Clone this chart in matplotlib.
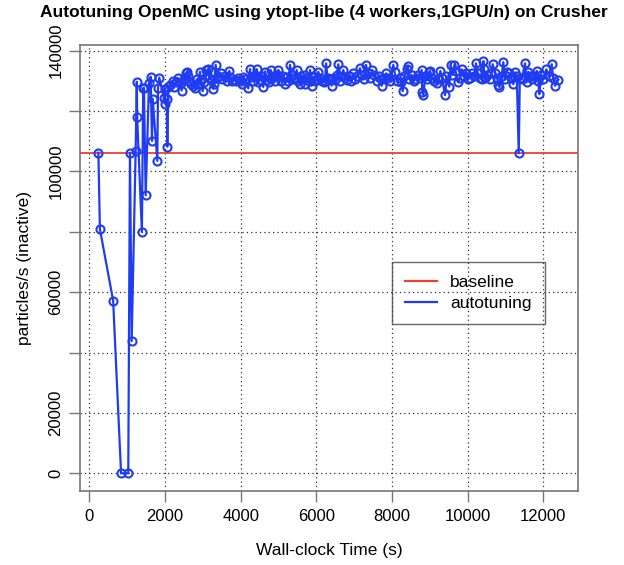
import matplotlib
matplotlib.use("Agg")
import matplotlib.pyplot as plt

plt.rcParams['font.family'] = ['Liberation Sans', 'DejaVu Sans']

BLUE, RED, FRAME = "#1f3cf2", "#ec4030", "#777777"

# wall-clock time (s) of each evaluation and its throughput
times = [240, 280, 630, 840, 1030, 1075, 1120, 1225, 1255, 1265, 1390, 1425, 1445, 1490,
         1578, 1622, 1657, 1676, 1798, 1816, 1850, 1975, 1993, 2001, 2045, 2062, 2090,
         2130, 2204, 2230, 2290, 2340, 2416, 2440, 2500, 2556, 2592, 2620, 2644, 2700,
         2750, 2790, 2840, 2880, 2926, 2943, 2996, 3040, 3084, 3120, 3146, 3172, 3233,
         3277, 3300, 3340, 3380, 3400, 3470, 3520, 3593, 3640, 3700, 3718, 3780, 3850,
         3880, 3940, 4002, 4040, 4072, 4120, 4203, 4248, 4266, 4320, 4370, 4406, 4424,
         4470, 4512, 4560, 4600, 4645, 4690, 4740, 4795, 4830, 4866, 4920, 4960, 4998,
         5020, 5080, 5130, 5170, 5218, 5260, 5305, 5349, 5390, 5440, 5482, 5520, 5560,
         5600, 5650, 5675, 5702, 5760, 5800, 5834, 5878, 5900, 5960, 6010, 6055, 6100,
         6150, 6200, 6231, 6257, 6300, 6350, 6407, 6450, 6500, 6540, 6582, 6620, 6680,
         6714, 6760, 6800, 6860, 6920, 6978, 7020, 7080, 7155, 7200, 7250, 7314, 7360,
         7420, 7480, 7530, 7600, 7650, 7700, 7729, 7800, 7850, 7900, 7960, 8036, 8070,
         8130, 8200, 8250, 8284, 8330, 8390, 8420, 8460, 8520, 8570, 8620, 8680, 8730,
         8786, 8800, 8829, 8880, 8930, 8970, 9006, 9060, 9120, 9183, 9230, 9280, 9320,
         9403, 9440, 9516, 9553, 9600, 9650, 9680, 9754, 9800, 9850, 9900, 9950, 10000,
         10060, 10120, 10180, 10222, 10270, 10320, 10380, 10415, 10430, 10460, 10520,
         10580, 10630, 10663, 10720, 10780, 10812, 10840, 10900, 10944, 10980, 11030,
         11100, 11150, 11210, 11260, 11300, 11351, 11380, 11430, 11517, 11560, 11600,
         11660, 11700, 11760, 11830, 11870, 11895, 11940, 12000, 12080, 12150, 12223,
         12260, 12310, 12398]
rates = [106200, 80900, 57200, 0, 0, 106200, 43800, 106900, 129700, 117900, 80000, 127500,
         127800, 92100, 129400, 131400, 110100, 124100, 103500, 127500, 131100, 124200,
         127200, 122400, 124000, 108200, 128000,
         128500, 130000, 128000, 129500, 131000, 129200, 126800, 130500, 132500, 133100,
         131500, 130000, 129000, 128300, 127500, 130500, 129000, 133000, 130300, 126600,
         129500, 133600, 132000, 134000, 131000, 130300, 127400, 129000, 135300, 131000,
         131500, 132500, 130500, 131500, 130000, 133300, 131400, 130000, 130300, 129800,
         131000, 130000, 129000, 131400, 130500, 127500, 133900, 131400, 130000, 132000,
         131500, 133900, 129500, 130300, 131500, 128000, 133100, 130300, 129500, 133600,
         131000, 131500, 130000, 132000, 133600, 131500, 130000, 131500, 129000, 131200,
         130000, 135300, 132000, 130500, 131000, 133600, 130000, 129000, 131500, 130500,
         132000, 128900, 131000, 130000, 133600, 128400, 131500, 129800, 130500, 133000,
         131000, 130000, 129500, 130000, 135800, 131000, 130500, 128400, 131000, 130300,
         132000, 135500, 130000, 131500, 133600, 131000, 130300, 131500, 130000, 132500,
         130500, 131500, 134200, 132000, 130500, 135300, 132500, 131000, 133600, 132000,
         130000, 131500, 130500, 128400, 131000, 132500, 131000, 130000, 135300, 132800,
         130000, 131000, 129500, 126600, 131500, 134000, 134800, 130500, 132000, 129800,
         130500, 132000, 131000, 133600, 126300, 125300, 131500, 130500, 132800, 133300,
         131000, 130000, 129200, 130500, 133300, 131000, 125300, 131500, 128100, 135300,
         132000, 135300, 133300, 129500, 131000, 133800, 131500, 132600, 130500, 131000,
         132500, 131500, 135800, 132500, 131000, 130500, 136600, 134000, 131000, 132000,
         130500, 132500, 135500, 132500, 131000, 128700, 128000, 131500, 136200, 130500,
         133000, 132500, 131000, 128900, 132800, 131500, 106000, 131000, 130500, 135800,
         129500, 133000, 131500, 130500, 131500, 133300, 130000, 125600, 131800, 130500,
         133800, 131500, 135500, 131000, 128400, 130400]
baseline = 106000

x_ticks = [0, 2000, 4000, 6000, 8000, 10000, 12000]
y_ticks = [0, 20000, 40000, 60000, 80000, 100000, 120000, 140000]
y_tick_labels = ["0", "20000", "", "60000", "", "100000", "", "140000"]

fig = plt.figure(figsize=(6.24, 5.65), dpi=100)
ax = fig.add_axes([0.1282, 0.1310, 0.7981, 0.7899])

ax.axhline(baseline, color=RED, lw=1.3, label="baseline", zorder=3)
ax.plot(times, rates, color=BLUE, lw=1.6, marker="o", ms=5.8, mfc="none",
        mec=BLUE, mew=1.5, label="autotuning", zorder=4)

ax.set_xlim(-246, 12918)
ax.set_ylim(-5864, 141990)
ax.set_xticks(x_ticks)
ax.set_yticks(y_ticks)
ax.set_yticklabels(y_tick_labels, rotation=90, va="center")
ax.grid(True, color="#333333", linestyle=(0, (1, 2.5)), lw=0.9)
ax.set_axisbelow(True)
ax.tick_params(length=8, width=1, color=FRAME, labelsize=12, pad=4)
ax.tick_params(axis="x", pad=5)
for s in ax.spines.values():
    s.set_color(FRAME); s.set_linewidth(1.2)

ax.set_xlabel("Wall-clock Time (s)", fontsize=12.5, labelpad=14)
ax.set_ylabel("particles/s (inactive)", fontsize=12.5, labelpad=12)
ax.set_title("Autotuning OpenMC using ytopt-libe (4 workers,1GPU/n) on Crusher",
             fontsize=12.5, fontweight="bold", pad=20, x=0.49)

leg = ax.legend(loc="upper left", bbox_to_anchor=(0.6265, 0.513), fontsize=12.5,
                frameon=True, fancybox=False, handlelength=1.85, handletextpad=0.75,
                borderpad=0.75, labelspacing=0.35, borderaxespad=0)
leg.get_frame().set_facecolor("none")
leg.get_frame().set_edgecolor("#444444")
leg.get_frame().set_linewidth(1.0)
for h in leg.get_lines():
    h.set_marker("")
    h.set_linewidth(1.6)

fig.savefig("out.png", dpi=100)
